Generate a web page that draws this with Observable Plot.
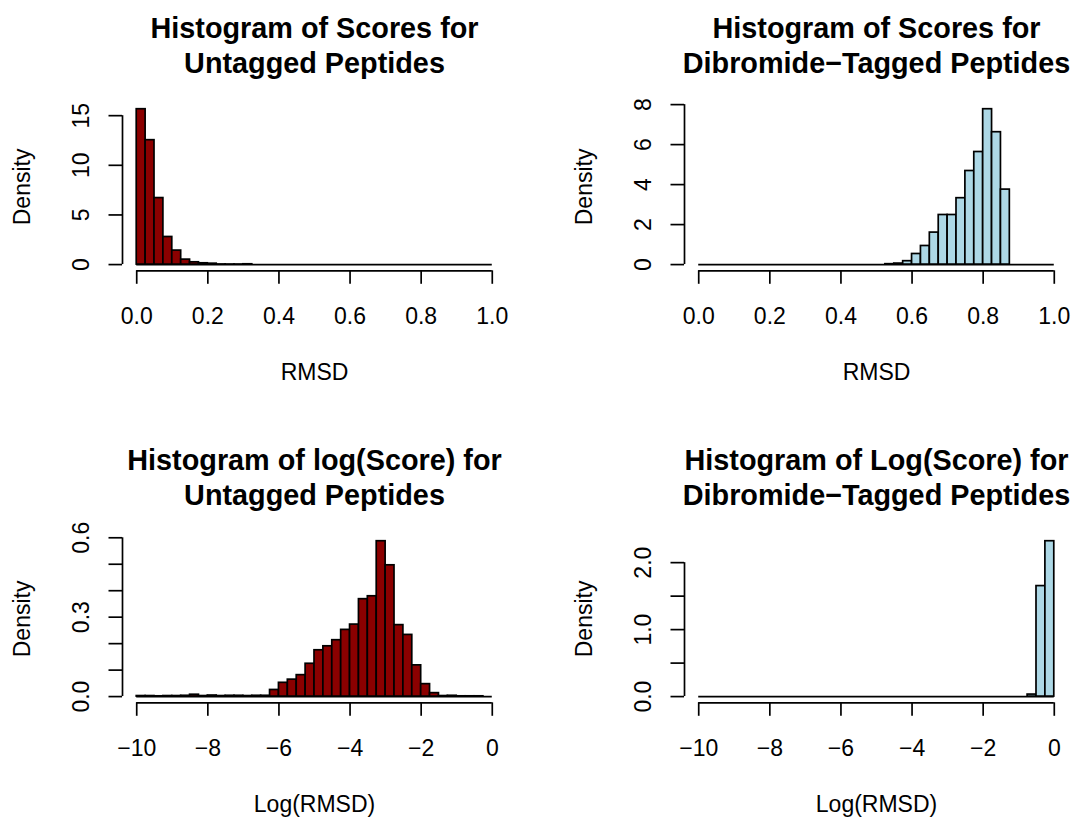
<!DOCTYPE html>
<html>
<head>
<meta charset="utf-8">
<script src="https://cdn.jsdelivr.net/npm/d3@7"></script>
<script src="https://cdn.jsdelivr.net/npm/@observablehq/plot@0.6"></script>
<style>
html, body { margin: 0; padding: 0; background: #fff; overflow: hidden; }
#chart { position: relative; width: 1072px; height: 817px; background: #fff; }
#chart svg { position: absolute; }
</style>
</head>
<body>
<div id="chart"></div>
<script>
// ---- Data ----
const scoreBreaks = [0,0.025,0.05,0.075,0.1,0.125,0.15,0.175,0.2,0.225,0.25,0.275,0.3,0.325,0.35,0.375,0.4,0.425,0.45,0.475,0.5,0.525,0.55,0.575,0.6,0.625,0.65,0.675,0.7,0.725,0.75,0.775,0.8,0.825,0.85,0.875,0.9,0.925,0.95,0.975,1];
const logBreaks = [-10,-9.75,-9.5,-9.25,-9,-8.75,-8.5,-8.25,-8,-7.75,-7.5,-7.25,-7,-6.75,-6.5,-6.25,-6,-5.75,-5.5,-5.25,-5,-4.75,-4.5,-4.25,-4,-3.75,-3.5,-3.25,-3,-2.75,-2.5,-2.25,-2,-1.75,-1.5,-1.25,-1,-0.75,-0.5,-0.25,0];

const untaggedScoreDensity = [15.65,12.53,6.70,2.78,1.41,0.50,0.23,0.13,0.09,0.01,0.005,0.005,0.03,0,0,0,0,0,0,0,0,0,0,0,0,0,0,0,0,0,0,0,0,0,0,0,0,0,0,0];
const taggedScoreDensity = [0,0,0,0,0,0,0,0,0,0,0,0,0,0,0,0,0,0,0,0,0,0.02,0.05,0.17,0.53,0.93,1.60,2.48,2.48,3.32,4.68,5.63,7.77,6.62,3.75,0,0,0,0,0];
const untaggedLogDensity = [0.002,0.002,0.001,0.002,0.002,0.003,0.007,0.002,0.004,0.002,0.003,0.003,0.002,0.003,0.003,0.025,0.052,0.064,0.081,0.124,0.175,0.19,0.213,0.252,0.272,0.368,0.379,0.587,0.496,0.27,0.233,0.118,0.047,0.013,0.002,0.003,0.001,0.001,0.001,0];
const taggedLogDensity = [0,0,0,0,0,0,0,0,0,0,0,0,0,0,0,0,0,0,0,0,0,0,0,0,0,0,0,0,0,0,0,0,0,0,0,0,0,0.03,1.65,2.32];

const scoreTicks = [0,0.2,0.4,0.6,0.8,1];
const scoreTickLabels = ["0.0","0.2","0.4","0.6","0.8","1.0"];
const logTicks = [-10,-8,-6,-4,-2,0];
const logTickLabels = ["\u221210","\u22128","\u22126","\u22124","\u22122","0"];

const yTicks1 = [0,5,10,15];
const yTickLabels1 = ["0","5","10","15"];
const yTicks2 = [0,2,4,6,8];
const yTickLabels2 = ["0","2","4","6","8"];
const yTicks3 = [0,0.1,0.2,0.3,0.4,0.5,0.6];
const yTickLabels3 = ["0.0","","","0.3","","","0.6"];
const yTicks4 = [0,0.5,1,1.5,2];
const yTickLabels4 = ["0.0","","1.0","","2.0"];

const titles = [
  ["Histogram of Scores for", "Untagged Peptides"],
  ["Histogram of Scores for", "Dibromide\u2212Tagged Peptides"],
  ["Histogram of log(Score) for", "Untagged Peptides"],
  ["Histogram of Log(Score) for", "Dibromide\u2212Tagged Peptides"]
];
const xLabels = ["RMSD", "RMSD", "Log(RMSD)", "Log(RMSD)"];
const yLabel = "Density";
const untaggedColor = "#8B0000";
const taggedColor = "#ADD8E6";

// ---- Drawing ----
const LW = 1.7;
const FONT = "'Liberation Sans', Arial, Helvetica, sans-serif";
const PLOT_LEFT = 122, PLOT_W = 384, PLOT_TOP = 102.5, PLOT_H = 167.8;

function panel(cfg) {
  const {breaks, density, fill, xTicks, xTickLabels, yTicks, yTickLabels, title, xLabel, left, top, width, height} = cfg;
  const bins = density.map((d, i) => ({x1: breaks[i], x2: breaks[i + 1], d}));
  const b0 = breaks[0], b1 = breaks[breaks.length - 1], br = b1 - b0;
  const ymax = d3.max(density);
  const xDomain = [b0 - 0.04 * br, b1 + 0.04 * br];
  const yDomain = [-0.04 * ymax, 1.04 * ymax];
  const xFmt = new Map(xTicks.map((t, i) => [t, xTickLabels[i]]));
  const yFmt = new Map(yTicks.map((t, i) => [t, yTickLabels[i]]));
  const svg = Plot.plot({
    width, height,
    marginLeft: PLOT_LEFT,
    marginRight: width - PLOT_LEFT - PLOT_W,
    marginTop: PLOT_TOP,
    marginBottom: height - PLOT_TOP - PLOT_H,
    x: {domain: xDomain, axis: null},
    y: {domain: yDomain, axis: null},
    style: {fontFamily: FONT, fontSize: "23px", color: "black", background: "white", overflow: "visible"},
    marks: [
      Plot.ruleY([0], {x1: b0, x2: b1, stroke: "black", strokeWidth: LW}),
      Plot.rectY(bins, {x1: "x1", x2: "x2", y1: 0, y2: "d", fill, stroke: "black", strokeWidth: LW, inset: 0}),
      Plot.ruleY([yDomain[0]], {x1: xTicks[0], x2: xTicks[xTicks.length - 1], stroke: "black", strokeWidth: LW}),
      Plot.ruleX([xDomain[0]], {y1: yTicks[0], y2: yTicks[yTicks.length - 1], stroke: "black", strokeWidth: LW}),
      Plot.axisX(xTicks, {anchor: "bottom", tickSize: 13.5, tickPadding: 23, tickFormat: d => xFmt.get(d), strokeWidth: LW, fontSize: 23, label: null}),
      Plot.axisY(yTicks, {anchor: "left", tickSize: 13.5, tickPadding: 20, tickRotate: -90, tickFormat: d => yFmt.get(d), strokeWidth: LW, fontSize: 23, label: null}),
      Plot.text([xLabel], {text: d => d, frameAnchor: "bottom", dy: 108.8, lineAnchor: "bottom", fontSize: 23}),
      Plot.text([yLabel], {text: d => d, frameAnchor: "left", dx: -92.5, rotate: -90, lineAnchor: "bottom", textAnchor: "middle", fontSize: 23}),
      Plot.text([title[0]], {text: d => d, frameAnchor: "top", dy: 37 - PLOT_TOP, lineAnchor: "bottom", fontSize: 28.8, fontWeight: "bold"}),
      Plot.text([title[1]], {text: d => d, frameAnchor: "top", dy: 72 - PLOT_TOP, lineAnchor: "bottom", fontSize: 28.8, fontWeight: "bold"})
    ]
  });
  svg.style.left = left + "px";
  svg.style.top = top + "px";
  return svg;
}

const chart = document.getElementById("chart");
chart.appendChild(panel({breaks: scoreBreaks, density: untaggedScoreDensity, fill: untaggedColor, xTicks: scoreTicks, xTickLabels: scoreTickLabels, yTicks: yTicks1, yTickLabels: yTickLabels1, title: titles[0], xLabel: xLabels[0], left: 0, top: 0, width: 536, height: 408}));
chart.appendChild(panel({breaks: scoreBreaks, density: taggedScoreDensity, fill: taggedColor, xTicks: scoreTicks, xTickLabels: scoreTickLabels, yTicks: yTicks2, yTickLabels: yTickLabels2, title: titles[1], xLabel: xLabels[1], left: 562, top: 0, width: 510, height: 408}));
chart.appendChild(panel({breaks: logBreaks, density: untaggedLogDensity, fill: untaggedColor, xTicks: logTicks, xTickLabels: logTickLabels, yTicks: yTicks3, yTickLabels: yTickLabels3, title: titles[2], xLabel: xLabels[2], left: 0, top: 432, width: 536, height: 385}));
chart.appendChild(panel({breaks: logBreaks, density: taggedLogDensity, fill: taggedColor, xTicks: logTicks, xTickLabels: logTickLabels, yTicks: yTicks4, yTickLabels: yTickLabels4, title: titles[3], xLabel: xLabels[3], left: 562, top: 432, width: 510, height: 385}));
</script>
</body>
</html>
